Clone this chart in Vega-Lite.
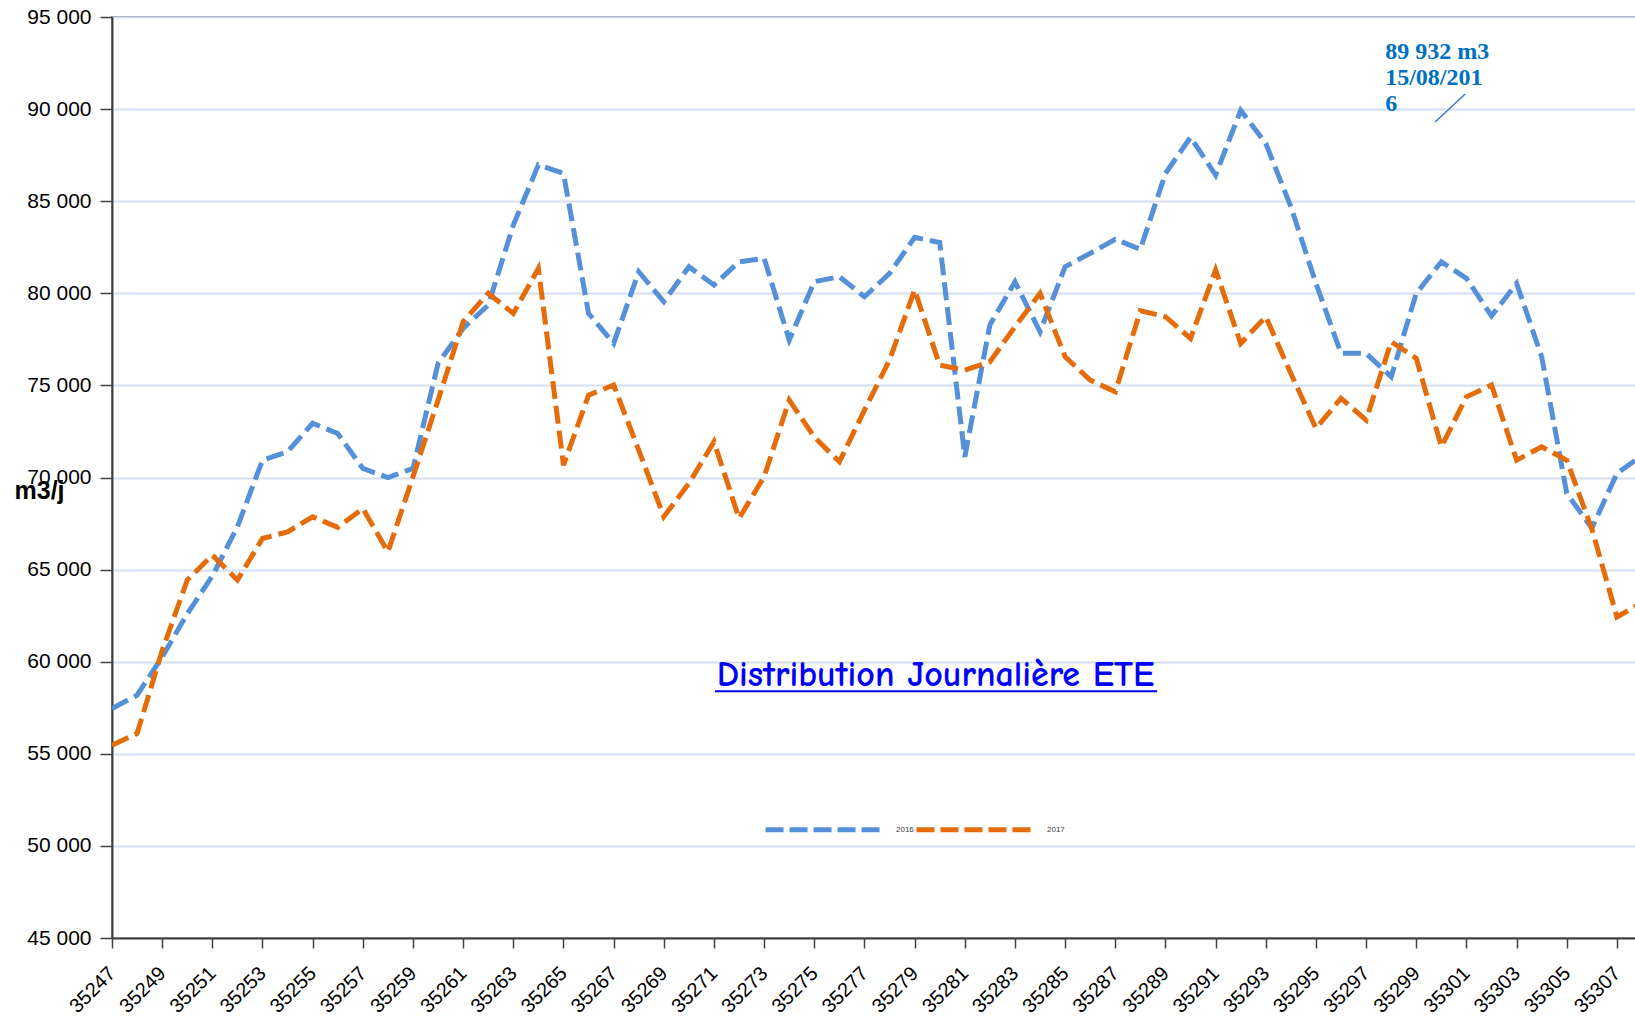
{
  "$schema": "https://vega.github.io/schema/vega-lite/v6.json",
  "autosize": {"type": "none"},
  "width": 1524,
  "height": 921,
  "padding": {"left": 112, "top": 17, "right": 0, "bottom": 78},
  "background": "white",
  "config": {
    "view": {"stroke": "#8c8c8c", "strokeWidth": 2},
    "font": "Liberation Sans"
  },
  "datasets": {
    "series": [
      {"day": 35247, "year": "2016", "value": 57460}, {"day": 35248, "year": "2016", "value": 58180},
      {"day": 35249, "year": "2016", "value": 60260}, {"day": 35250, "year": "2016", "value": 62600},
      {"day": 35251, "year": "2016", "value": 64650}, {"day": 35252, "year": "2016", "value": 67320},
      {"day": 35253, "year": "2016", "value": 70940}, {"day": 35254, "year": "2016", "value": 71400},
      {"day": 35255, "year": "2016", "value": 72940}, {"day": 35256, "year": "2016", "value": 72390},
      {"day": 35257, "year": "2016", "value": 70490}, {"day": 35258, "year": "2016", "value": 70000},
      {"day": 35259, "year": "2016", "value": 70490}, {"day": 35260, "year": "2016", "value": 76200},
      {"day": 35261, "year": "2016", "value": 78100}, {"day": 35262, "year": "2016", "value": 79360},
      {"day": 35263, "year": "2016", "value": 83700}, {"day": 35264, "year": "2016", "value": 86970},
      {"day": 35265, "year": "2016", "value": 86510}, {"day": 35266, "year": "2016", "value": 78910},
      {"day": 35267, "year": "2016", "value": 77280}, {"day": 35268, "year": "2016", "value": 81170},
      {"day": 35269, "year": "2016", "value": 79540}, {"day": 35270, "year": "2016", "value": 81440},
      {"day": 35271, "year": "2016", "value": 80450}, {"day": 35272, "year": "2016", "value": 81710},
      {"day": 35273, "year": "2016", "value": 81900}, {"day": 35274, "year": "2016", "value": 77460},
      {"day": 35275, "year": "2016", "value": 80630}, {"day": 35276, "year": "2016", "value": 80900},
      {"day": 35277, "year": "2016", "value": 79810}, {"day": 35278, "year": "2016", "value": 81080},
      {"day": 35279, "year": "2016", "value": 83040}, {"day": 35280, "year": "2016", "value": 82750},
      {"day": 35281, "year": "2016", "value": 71120}, {"day": 35282, "year": "2016", "value": 78280},
      {"day": 35283, "year": "2016", "value": 80630}, {"day": 35284, "year": "2016", "value": 77910},
      {"day": 35285, "year": "2016", "value": 81440}, {"day": 35286, "year": "2016", "value": 82170},
      {"day": 35287, "year": "2016", "value": 82930}, {"day": 35288, "year": "2016", "value": 82390},
      {"day": 35289, "year": "2016", "value": 86510}, {"day": 35290, "year": "2016", "value": 88470},
      {"day": 35291, "year": "2016", "value": 86420}, {"day": 35292, "year": "2016", "value": 89932},
      {"day": 35293, "year": "2016", "value": 88140}, {"day": 35294, "year": "2016", "value": 84700},
      {"day": 35295, "year": "2016", "value": 80540}, {"day": 35296, "year": "2016", "value": 76740},
      {"day": 35297, "year": "2016", "value": 76740}, {"day": 35298, "year": "2016", "value": 75470},
      {"day": 35299, "year": "2016", "value": 80000}, {"day": 35300, "year": "2016", "value": 81710},
      {"day": 35301, "year": "2016", "value": 80810}, {"day": 35302, "year": "2016", "value": 78770},
      {"day": 35303, "year": "2016", "value": 80540}, {"day": 35304, "year": "2016", "value": 76550},
      {"day": 35305, "year": "2016", "value": 69140}, {"day": 35306, "year": "2016", "value": 67250},
      {"day": 35307, "year": "2016", "value": 70220}, {"day": 35308, "year": "2016", "value": 71200},
      {"day": 35247, "year": "2017", "value": 55470}, {"day": 35248, "year": "2017", "value": 56100},
      {"day": 35249, "year": "2017", "value": 60600}, {"day": 35250, "year": "2017", "value": 64430},
      {"day": 35251, "year": "2017", "value": 65790}, {"day": 35252, "year": "2017", "value": 64430},
      {"day": 35253, "year": "2017", "value": 66690}, {"day": 35254, "year": "2017", "value": 67050},
      {"day": 35255, "year": "2017", "value": 67870}, {"day": 35256, "year": "2017", "value": 67290},
      {"day": 35257, "year": "2017", "value": 68320}, {"day": 35258, "year": "2017", "value": 65960},
      {"day": 35259, "year": "2017", "value": 70040}, {"day": 35260, "year": "2017", "value": 74200},
      {"day": 35261, "year": "2017", "value": 78460}, {"day": 35262, "year": "2017", "value": 80000},
      {"day": 35263, "year": "2017", "value": 78910}, {"day": 35264, "year": "2017", "value": 81350},
      {"day": 35265, "year": "2017", "value": 70670}, {"day": 35266, "year": "2017", "value": 74470},
      {"day": 35267, "year": "2017", "value": 75020}, {"day": 35268, "year": "2017", "value": 71490},
      {"day": 35269, "year": "2017", "value": 67870}, {"day": 35270, "year": "2017", "value": 69680},
      {"day": 35271, "year": "2017", "value": 71940}, {"day": 35272, "year": "2017", "value": 67780},
      {"day": 35273, "year": "2017", "value": 70040}, {"day": 35274, "year": "2017", "value": 74200},
      {"day": 35275, "year": "2017", "value": 72200}, {"day": 35276, "year": "2017", "value": 70850},
      {"day": 35277, "year": "2017", "value": 73660}, {"day": 35278, "year": "2017", "value": 76380},
      {"day": 35279, "year": "2017", "value": 80180}, {"day": 35280, "year": "2017", "value": 76100},
      {"day": 35281, "year": "2017", "value": 75830}, {"day": 35282, "year": "2017", "value": 76280},
      {"day": 35283, "year": "2017", "value": 78180}, {"day": 35284, "year": "2017", "value": 80000},
      {"day": 35285, "year": "2017", "value": 76550}, {"day": 35286, "year": "2017", "value": 75290},
      {"day": 35287, "year": "2017", "value": 74650}, {"day": 35288, "year": "2017", "value": 79050},
      {"day": 35289, "year": "2017", "value": 78730}, {"day": 35290, "year": "2017", "value": 77550},
      {"day": 35291, "year": "2017", "value": 81260}, {"day": 35292, "year": "2017", "value": 77280},
      {"day": 35293, "year": "2017", "value": 78730}, {"day": 35294, "year": "2017", "value": 75650},
      {"day": 35295, "year": "2017", "value": 72670}, {"day": 35296, "year": "2017", "value": 74300},
      {"day": 35297, "year": "2017", "value": 73120}, {"day": 35298, "year": "2017", "value": 77370},
      {"day": 35299, "year": "2017", "value": 76470}, {"day": 35300, "year": "2017", "value": 71670},
      {"day": 35301, "year": "2017", "value": 74380}, {"day": 35302, "year": "2017", "value": 75020},
      {"day": 35303, "year": "2017", "value": 70940}, {"day": 35304, "year": "2017", "value": 71670},
      {"day": 35305, "year": "2017", "value": 70940}, {"day": 35306, "year": "2017", "value": 67200},
      {"day": 35307, "year": "2017", "value": 62430}, {"day": 35308, "year": "2017", "value": 63200}
    ]
  },
  "layer": [
    {
      "data": {"name": "series"},
      "mark": {"type": "line", "strokeWidth": 5, "strokeDash": [18, 7], "strokeCap": "butt", "clip": true},
      "encoding": {
        "x": {
          "field": "day", "type": "quantitative",
          "scale": {"domain": [35247, 35307.76], "nice": false, "zero": false},
          "axis": {
            "title": null,
            "values": [35247,35248,35249,35250,35251,35252,35253,35254,35255,35256,35257,35258,35259,35260,35261,35262,35263,35264,35265,35266,35267,35268,35269,35270,35271,35272,35273,35274,35275,35276,35277,35278,35279,35280,35281,35282,35283,35284,35285,35286,35287,35288,35289,35290,35291,35292,35293,35294,35295,35296,35297,35298,35299,35300,35301,35302,35303,35304,35305,35306,35307],
            "labelExpr": "(datum.value - 35247) % 2 == 0 ? format(datum.value, 'd') : ''",
            "labelAngle": -45,
            "labelAlign": "right",
            "labelBaseline": "middle",
            "labelFontSize": 20,
            "labelColor": "#000000",
            "labelPadding": 22,
            "labelOverlap": false,
            "labelFlush": false,
            "tickSize": 10,
            "tickColor": "#404040",
            "tickWidth": 1.5,
            "domainColor": "#404040",
            "domainWidth": 2,
            "grid": false
          }
        },
        "y": {
          "field": "value", "type": "quantitative",
          "scale": {"domain": [45000, 95000], "nice": false, "zero": false},
          "axis": {
            "values": [45000,50000,55000,60000,65000,70000,75000,80000,85000,90000,95000],
            "labelExpr": "replace(format(datum.value, ',d'), ',', ' ')",
            "labelFontSize": 21,
            "labelColor": "#000000",
            "labelPadding": 9,
            "tickSize": 12,
            "tickColor": "#404040",
            "tickWidth": 1.5,
            "domainColor": "#404040",
            "domainWidth": 2,
            "grid": true,
            "gridColor": "#d4def0",
            "gridWidth": 2,
            "title": "m3/j",
            "titleAngle": 0,
            "titleX": -98,
            "titleY": 473,
            "titleAlign": "left",
            "titleBaseline": "middle",
            "titleFontSize": 25,
            "titleFontWeight": "bold",
            "titleColor": "#000000"
          }
        },
        "color": {
          "field": "year", "type": "nominal",
          "scale": {"domain": ["2016", "2017"], "range": ["#5590d8", "#e46c0a"]},
          "legend": {
            "title": null,
            "orient": "none",
            "legendX": 651,
            "legendY": 750,
            "direction": "horizontal",
            "symbolType": "stroke",
            "symbolSize": 14400,
            "symbolStrokeWidth": 5,
            "symbolDash": [18, 6],
            "labelFontSize": 8,
            "labelColor": "#404040",
            "labelOffset": 8,
            "columnPadding": -16
          }
        }
      }
    },
    {
      "data": {"values": [{"day": 35279.83, "value": 58700, "label": "Distribution Journalière ETE"}]},
      "mark": {"type": "text", "font": "Comic Sans MS, Comic Neue, Noto Sans", "fontSize": 36, "fontWeight": "bold", "color": "#0000ff", "align": "center", "baseline": "alphabetic"},
      "encoding": {
        "x": {"field": "day", "type": "quantitative"},
        "y": {"field": "value", "type": "quantitative"},
        "text": {"field": "label"}
      }
    },
    {
      "data": {"values": [{"day": 35271.04, "day2": 35288.67, "value": 58398}]},
      "mark": {"type": "rule", "color": "#0000ff", "strokeWidth": 2},
      "encoding": {
        "x": {"field": "day", "type": "quantitative"},
        "x2": {"field": "day2"},
        "y": {"field": "value", "type": "quantitative"}
      }
    },
    {
      "data": {"values": [{"day": 35297.76, "value": 93750, "label": "89 932 m3\n15/08/201\n6"}]},
      "mark": {"type": "text", "font": "Liberation Serif", "fontWeight": "bold", "fontSize": 24, "color": "#0070c0", "align": "left", "baseline": "top", "lineBreak": "\n", "lineHeight": 26},
      "encoding": {
        "x": {"field": "day", "type": "quantitative"},
        "y": {"field": "value", "type": "quantitative"},
        "text": {"field": "label"}
      }
    },
    {
      "data": {"values": [{"day": 35300.95, "value": 90821, "day2": 35299.75, "value2": 89300}]},
      "mark": {"type": "rule", "color": "#4472c4", "strokeWidth": 1.5},
      "encoding": {
        "x": {"field": "day", "type": "quantitative"},
        "x2": {"field": "day2"},
        "y": {"field": "value", "type": "quantitative"},
        "y2": {"field": "value2"}
      }
    }
  ]
}
